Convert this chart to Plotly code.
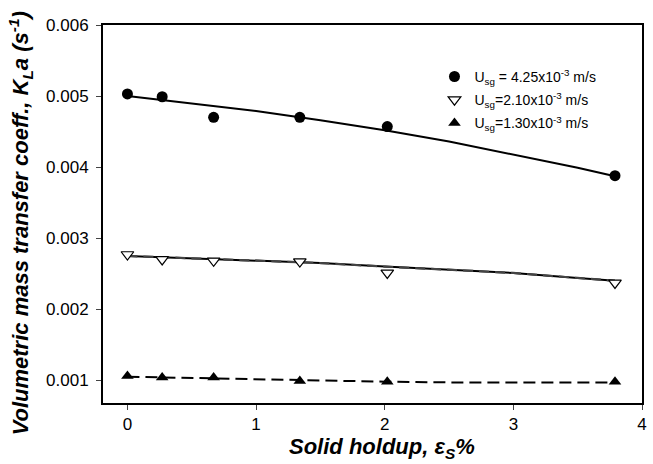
import plotly.graph_objects as go

# Measured data
holdup = [0.0, 0.27, 0.67, 1.34, 2.02, 3.79]
kla_425 = [0.00503, 0.00499, 0.00470, 0.00470, 0.00457, 0.00388]
kla_210 = [0.00277, 0.00270, 0.00268, 0.00267, 0.00251, 0.00237]
kla_130 = [0.00106, 0.00104, 0.00104, 0.00099, 0.00098, 0.00098]

# Fitted curves
fit_x = [0.0, 0.5, 1.0, 1.5, 2.0, 2.5, 3.0, 3.5, 3.79]
fit_425 = [0.00500, 0.00490, 0.00479, 0.00466, 0.00452, 0.00436, 0.00418, 0.00399, 0.00387]
fit_210 = [0.00275, 0.00272, 0.00269, 0.00265, 0.00260, 0.00256, 0.00251, 0.00244, 0.00240]
fit_130 = [0.00105, 0.00103, 0.00101, 0.00099, 0.00098, 0.00097, 0.00097, 0.00097, 0.00097]

names = ["U<sub>sg</sub> = 4.25x10<sup>-3</sup> m/s",
         "U<sub>sg</sub>=2.10x10<sup>-3</sup> m/s",
         "U<sub>sg</sub>=1.30x10<sup>-3</sup> m/s"]
x_title = "<b><i>Solid holdup, ε<sub>S</sub>%</i></b>"
y_title = "<b><i>Volumetric mass transfer coeff., K<sub>L</sub>a (s<sup>-1</sup>)</i></b>"
y_ticks = [0.001, 0.002, 0.003, 0.004, 0.005, 0.006]
y_ticktext = ["0.001", "0.002", "0.003", "0.004", "0.005", "0.006"]
x_ticks = [0, 1, 2, 3, 4]

FONT = "Arial, 'Liberation Sans', sans-serif"

fig = go.Figure()
fig.add_trace(go.Scatter(x=fit_x, y=fit_425, mode="lines", line=dict(color="black", width=2),
                         showlegend=False, hoverinfo="skip"))
fig.add_trace(go.Scatter(x=fit_x, y=fit_210, mode="lines", line=dict(color="black", width=2),
                         showlegend=False, hoverinfo="skip"))
fig.add_trace(go.Scatter(x=fit_x, y=fit_210, mode="lines", line=dict(color="#444", width=2.2, dash="10px,6px"),
                         showlegend=False, hoverinfo="skip"))
fig.add_trace(go.Scatter(x=fit_x, y=fit_130, mode="lines", line=dict(color="black", width=2, dash="12px,6px"),
                         showlegend=False, hoverinfo="skip"))

fig.add_trace(go.Scatter(x=holdup, y=kla_425, mode="markers", name=names[0], legendgroup="a",
                         marker=dict(symbol="circle", size=11, color="black")))
fig.add_trace(go.Scatter(x=holdup, y=kla_210, mode="markers", name=names[1], legendgroup="b",
                         marker=dict(symbol="triangle-down", size=11, color="white",
                                     line=dict(color="black", width=1.2))))
fig.add_trace(go.Scatter(x=holdup, y=kla_130, mode="markers", name=names[2], legendgroup="c",
                         marker=dict(symbol="triangle-up", size=11, color="black")))

fig.update_layout(
    width=653, height=464,
    margin=dict(l=103, r=6, t=25, b=61),
    paper_bgcolor="white", plot_bgcolor="white",
    font=dict(family=FONT, size=17, color="black"),
    showlegend=True,
    legend=dict(x=0.615, y=0.905, xanchor="left", yanchor="top",
                font=dict(size=14), bgcolor="rgba(0,0,0,0)",
                tracegroupgap=2, itemwidth=30),
    annotations=[
        dict(text=x_title, xref="paper", yref="paper", x=0.518, y=-0.118,
             xanchor="center", yanchor="middle", showarrow=False, font=dict(size=22)),
        dict(text=y_title, xref="paper", yref="paper", x=-0.153, y=0.474, textangle=-90,
             xanchor="center", yanchor="middle", showarrow=False, font=dict(size=22)),
    ],
)
fig.update_xaxes(range=[-0.19, 4.0], tickvals=x_ticks, ticks="outside", ticklen=5,
                 tickwidth=1.2, showline=True, linewidth=2, linecolor="black", mirror=True,
                 showgrid=False, zeroline=False)
fig.update_yaxes(range=[0.00068, 0.006], tickvals=y_ticks, ticktext=y_ticktext,
                 ticks="outside", ticklen=5, tickwidth=1.2, showline=True, linewidth=2,
                 linecolor="black", mirror=True, showgrid=False, zeroline=False,
                 ticklabelstandoff=4)

fig.write_html("out.html")
